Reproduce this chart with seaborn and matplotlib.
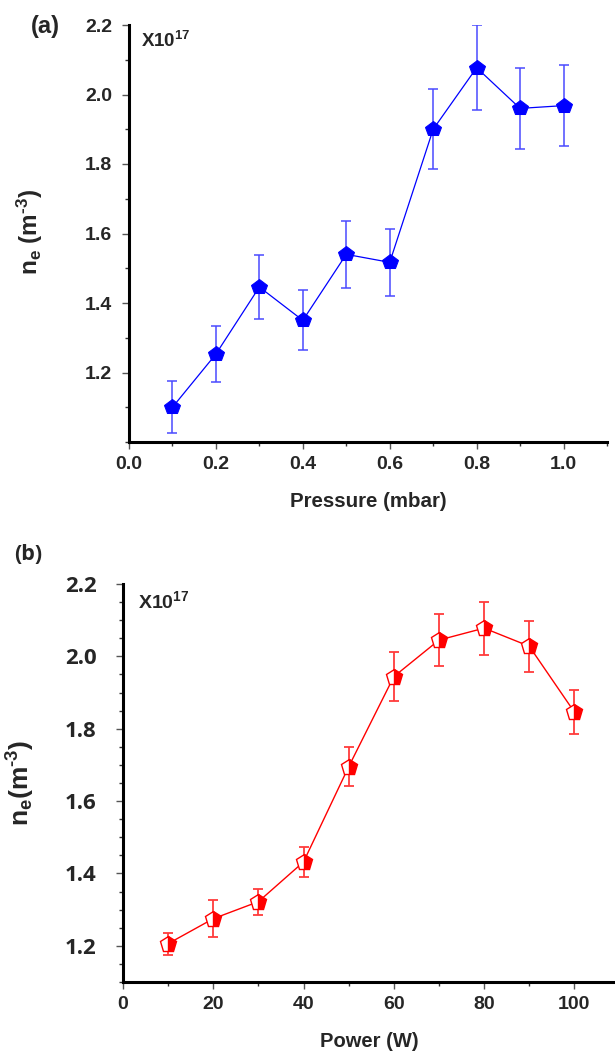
import numpy as np
import pandas as pd
import matplotlib
matplotlib.use("Agg")
import matplotlib.pyplot as plt
import seaborn as sns
from matplotlib.ticker import MultipleLocator, FixedLocator, FormatStrFormatter

# ---- data ----
pressure = [0.1, 0.2, 0.3, 0.4, 0.5, 0.6, 0.7, 0.8, 0.9, 1.0]
ne_pressure = [1.10, 1.253, 1.446, 1.350, 1.540, 1.517, 1.900, 2.077, 1.960, 1.968]
err_pressure = [0.075, 0.081, 0.092, 0.086, 0.097, 0.097, 0.115, 0.123, 0.116, 0.116]

power = [10, 20, 30, 40, 50, 60, 70, 80, 90, 100]
ne_power = [1.206, 1.275, 1.322, 1.432, 1.695, 1.944, 2.045, 2.078, 2.028, 1.846]
err_power = [0.030, 0.052, 0.036, 0.042, 0.054, 0.067, 0.072, 0.073, 0.071, 0.061]

y_major_a = [1.2, 1.4, 1.6, 1.8, 2.0, 2.2]
y_major_b = [1.2, 1.4, 1.6, 1.8, 2.0, 2.2]

df_a = pd.DataFrame({"x": pressure, "y": ne_pressure, "e": err_pressure})
df_b = pd.DataFrame({"x": power, "y": ne_power, "e": err_power})

sns.set_style("ticks")
plt.rcParams["font.family"] = ["Liberation Sans", "DejaVu Sans"]
plt.rcParams["font.weight"] = "bold"
plt.rcParams["mathtext.fontset"] = "custom"
plt.rcParams["mathtext.rm"] = "Liberation Sans:bold"
plt.rcParams["mathtext.it"] = "Liberation Sans:bold"
plt.rcParams["mathtext.bf"] = "Liberation Sans:bold"

ALT = ["Open Sans", "Liberation Sans", "DejaVu Sans"]

fig = plt.figure(figsize=(6.15, 10.51), dpi=100)
ax1 = fig.add_axes([129/615, 1-442/1051, (607-129)/615, (442-25)/1051])
ax2 = fig.add_axes([123/615, 1-982/1051, (615-123)/615, (982-584)/1051])


def style_axis(ax, ypad=8, size=14):
    sns.despine(ax=ax)
    for s in ["left", "bottom"]:
        ax.spines[s].set_linewidth(2.2)
        ax.spines[s].set_color("black")
    ax.tick_params(axis="both", which="major", direction="out", length=5,
                   width=1.0, color="#555555", labelsize=size)
    ax.tick_params(axis="both", which="minor", direction="out", length=3,
                   width=1.0, color="#333333")
    ax.tick_params(axis="x", which="major", pad=5)
    ax.tick_params(axis="y", which="major", pad=ypad)
    for lab in ax.get_xticklabels() + ax.get_yticklabels():
        lab.set_fontweight("bold")


# ---- panel (a) ----
ax1.errorbar(df_a["x"], df_a["y"], yerr=df_a["e"], fmt="none",
             ecolor="#4a4aff", elinewidth=1.1, capsize=3.5, capthick=1.1, zorder=2)
sns.lineplot(data=df_a, x="x", y="y", ax=ax1, color="#0000ff", linewidth=0.9,
             marker="p", markersize=11.5, markeredgecolor="#0000ff",
             markerfacecolor="#0000ff", zorder=3)
ax1.set_xlim(0.0, 1.1)
ax1.set_ylim(1.0, 2.2)
ax1.xaxis.set_major_locator(FixedLocator([0.0, 0.2, 0.4, 0.6, 0.8, 1.0]))
ax1.xaxis.set_minor_locator(MultipleLocator(0.1))
ax1.xaxis.set_major_formatter(FormatStrFormatter("%.1f"))
ax1.yaxis.set_major_locator(FixedLocator(y_major_a))
ax1.yaxis.set_minor_locator(MultipleLocator(0.1))
ax1.yaxis.set_major_formatter(FormatStrFormatter("%.1f"))
ax1.set_xlabel("Pressure (mbar)", fontsize=14.8, fontweight="bold", labelpad=14)
ax1.set_ylabel("")
style_axis(ax1, ypad=7, size=14)
fig.text(30/615, 1-232/1051, r"n$_{\rm e}$ (m$^{\text{-3}}$)", rotation=90,
         ha="center", va="center", fontsize=17.5, fontweight="bold")
fig.text(45/615, 1-26/1051, "(a)", ha="center", va="center", fontsize=17,
         fontweight="bold")
ax1.text(0.025, 0.985, r"X10$^{\rm 17}$", transform=ax1.transAxes, ha="left",
         va="top", fontsize=13.5, fontweight="bold")

# ---- panel (b) ----
ax2.errorbar(df_b["x"], df_b["y"], yerr=df_b["e"], fmt="none",
             ecolor="#ff3b3b", elinewidth=1.3, capsize=3.5, capthick=1.3, zorder=2)
sns.lineplot(data=df_b, x="x", y="y", ax=ax2, color="#ff0000", linewidth=1.0,
             marker="p", markersize=12, markeredgecolor="#ff0000",
             markerfacecolor="#ff0000", fillstyle="right",
             markerfacecoloralt="white", markeredgewidth=1.0, zorder=3)
ax2.set_xlim(0, 109)
ax2.set_ylim(1.1, 2.2)
ax2.xaxis.set_major_locator(FixedLocator([0, 20, 40, 60, 80, 100]))
ax2.xaxis.set_minor_locator(MultipleLocator(10))
ax2.yaxis.set_major_locator(FixedLocator(y_major_b))
ax2.yaxis.set_minor_locator(MultipleLocator(0.05))
ax2.yaxis.set_major_formatter(FormatStrFormatter("%.1f"))
ax2.set_xlabel("Power (W)", fontsize=14.5, fontweight="bold", labelpad=14)
ax2.set_ylabel("")
style_axis(ax2, ypad=14, size=14)
for lab in ax2.get_yticklabels():
    lab.set_fontfamily(ALT)
    lab.set_fontweight("bold")
    lab.set_fontsize(16)
fig.text(21/615, 1-783/1051, r"n$_{\rm e}$(m$^{\text{-3}}$)", rotation=90,
         ha="center", va="center", fontsize=19, fontweight="bold")
fig.text(28/615, 1-555/1051, "(b)", ha="center", va="center", fontsize=15.5,
         fontweight="bold", family=ALT)
ax2.text(0.03, 0.985, r"X10$^{\rm 17}$", transform=ax2.transAxes, ha="left",
         va="top", fontsize=14, fontweight="bold")

fig.savefig("out.png", dpi=100)
